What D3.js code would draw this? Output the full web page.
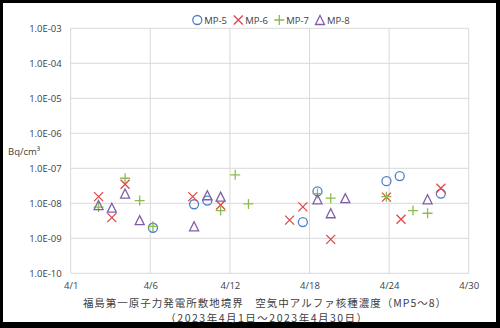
<!DOCTYPE html>
<html><head><meta charset="utf-8">
<script src="https://cdn.jsdelivr.net/npm/d3@7"></script>
<style>body{margin:0;background:#000;}svg{display:block;}</style>
</head><body>
<script>
const seriesNames = ["MP-5","MP-6","MP-7","MP-8"];
const xTickValues = [0,6,12,18,24,30];
const xTickLabels = ["4/1","4/6","4/12","4/18","4/24","4/30"];
const yTickValues = [1e-3,1e-4,1e-5,1e-6,1e-7,1e-8,1e-9,1e-10];
const yTickLabels = ["1.0E-03","1.0E-04","1.0E-05","1.0E-06","1.0E-07","1.0E-08","1.0E-09","1.0E-10"];
const mp5Days = [6.2, 9.3, 10.3, 17.5, 18.6, 23.8, 24.8, 27.9];
const mp5Vals = [2.0e-9, 9.4e-9, 1.2e-8, 2.9e-9, 2.2e-8, 4.3e-8, 6.0e-8, 1.9e-8];
const mp6Days = [2.1, 3.1, 4.1, 9.2, 11.3, 16.5, 17.5, 19.6, 23.8, 24.9, 27.9];
const mp6Vals = [1.55e-8, 3.9e-9, 3.5e-8, 1.55e-8, 8.9e-9, 3.3e-9, 7.9e-9, 9.3e-10, 1.5e-8, 3.5e-9, 2.7e-8];
const mp7Days = [2.1, 4.1, 5.2, 6.2, 11.3, 12.4, 13.4, 18.6, 19.6, 23.8, 25.8, 26.9];
const mp7Vals = [7.8e-9, 5.2e-8, 1.2e-8, 2.2e-9, 6.2e-9, 6.5e-8, 9.6e-9, 1.9e-8, 1.4e-8, 1.55e-8, 6.2e-9, 5.2e-9];
const mp8Days = [2.1, 3.1, 4.1, 5.2, 9.3, 10.3, 11.3, 18.6, 19.6, 20.7, 26.9];
const mp8Vals = [8.9e-9, 7.5e-9, 1.9e-8, 3.3e-9, 2.2e-9, 1.7e-8, 1.55e-8, 1.3e-8, 5.2e-9, 1.4e-8, 1.3e-8];
const yUnit = "Bq/cm³";
const titleLine1 = "福島第一原子力発電所敷地境界　空気中アルファ核種濃度（MP5～8）";
const titleLine2 = "（2023年4月1日～2023年4月30日）";

const colors = ["#4F7FC6","#E04848","#8DBB4C","#7E60A8"];
const shapes = ["circle","x","plus","tri"];
const series = [
  {name: seriesNames[0], days: mp5Days, vals: mp5Vals},
  {name: seriesNames[1], days: mp6Days, vals: mp6Vals},
  {name: seriesNames[2], days: mp7Days, vals: mp7Vals},
  {name: seriesNames[3], days: mp8Days, vals: mp8Vals}
];

const W = 500, H = 328;
const svg = d3.select("body").append("svg").attr("width", W).attr("height", H);
svg.append("rect").attr("width", W).attr("height", H).attr("fill", "#000");
svg.append("rect").attr("x", 3).attr("y", 3).attr("width", 493).attr("height", 319).attr("fill", "#fff");

const pLeft = 70.7, pRight = 468.7, pTop = 28.3, pBottom = 273.3;
const x = d3.scaleLinear().domain([0, 30]).range([pLeft, pRight]);
const y = d3.scaleLog().domain([1e-10, 1e-3]).range([pBottom, pTop]);

const font = "'Open Sans','Noto Sans',sans-serif";

// gridlines
const grid = svg.append("g");
grid.selectAll(".hg").data(yTickValues).join("line")
  .attr("x1", pLeft).attr("x2", pRight)
  .attr("y1", d => y(d)).attr("y2", d => y(d))
  .attr("stroke", "#D9D9D9").attr("stroke-width", 1);
grid.selectAll(".vg").data(xTickValues).join("line")
  .attr("y1", pTop).attr("y2", pBottom)
  .attr("x1", d => x(d)).attr("x2", d => x(d))
  .attr("stroke", "#D9D9D9").attr("stroke-width", 1);

// axes (labels only)
const yAxis = d3.axisLeft(y).tickValues(yTickValues)
  .tickFormat((d, i) => yTickLabels[i]).tickSize(0).tickPadding(9);
const gy = svg.append("g").attr("transform", `translate(${pLeft},0)`).call(yAxis);
gy.select(".domain").remove();
gy.selectAll("text").attr("font-family", font).attr("font-size", 9.5).attr("fill", "#404040");

const xAxis = d3.axisBottom(x).tickValues(xTickValues)
  .tickFormat((d, i) => xTickLabels[i]).tickSize(0).tickPadding(9);
const gx = svg.append("g").attr("transform", `translate(0,${pBottom})`).call(xAxis);
gx.select(".domain").remove();
gx.selectAll("text").attr("font-family", font).attr("font-size", 9.5).attr("fill", "#404040");

svg.append("text").attr("x", 8).attr("y", 155).text(yUnit)
  .attr("font-family", font).attr("font-size", 9.5).attr("fill", "#404040");

function drawMarker(g, shape, color, cx, cy) {
  const r = 4.5;
  if (shape === "circle") {
    g.append("circle").attr("cx", cx).attr("cy", cy).attr("r", r)
      .attr("fill", "none").attr("stroke", color).attr("stroke-width", 1.3);
  } else if (shape === "x") {
    g.append("path").attr("d", `M${cx-r},${cy-r}L${cx+r},${cy+r}M${cx-r},${cy+r}L${cx+r},${cy-r}`)
      .attr("stroke", color).attr("stroke-width", 1.3).attr("fill", "none");
  } else if (shape === "plus") {
    g.append("path").attr("d", `M${cx-r-0.5},${cy}L${cx+r+0.5},${cy}M${cx},${cy-r-0.5}L${cx},${cy+r+0.5}`)
      .attr("stroke", color).attr("stroke-width", 1.3).attr("fill", "none");
  } else {
    g.append("path").attr("d", `M${cx},${cy-r}L${cx+r},${cy+r}L${cx-r},${cy+r}Z`)
      .attr("stroke", color).attr("stroke-width", 1.3).attr("fill", "none");
  }
}

const pts = svg.append("g");
series.forEach((s, si) => {
  s.days.forEach((d, i) => drawMarker(pts, shapes[si], colors[si], x(d), y(s.vals[i])));
});

// legend
const legendX = [197.3, 238.3, 279.3, 320];
series.forEach((s, si) => {
  drawMarker(svg, shapes[si], colors[si], legendX[si], 20);
  svg.append("text").attr("x", legendX[si] + 7).attr("y", 23.5).text(s.name)
    .attr("font-family", font).attr("font-size", 9.5).attr("fill", "#404040");
});

// title
svg.append("text").attr("x", 265).attr("y", 306.5).attr("text-anchor", "middle")
  .text(titleLine1).attr("font-family", "'Noto Sans CJK JP',sans-serif")
  .attr("font-size", 10.5).attr("letter-spacing", 1).attr("fill", "#404040");
svg.append("text").attr("x", 267).attr("y", 321.5).attr("text-anchor", "middle")
  .text(titleLine2).attr("font-family", "'Noto Sans CJK JP',sans-serif")
  .attr("font-size", 10.5).attr("letter-spacing", 1.5).attr("fill", "#404040");
</script>
</body></html>
